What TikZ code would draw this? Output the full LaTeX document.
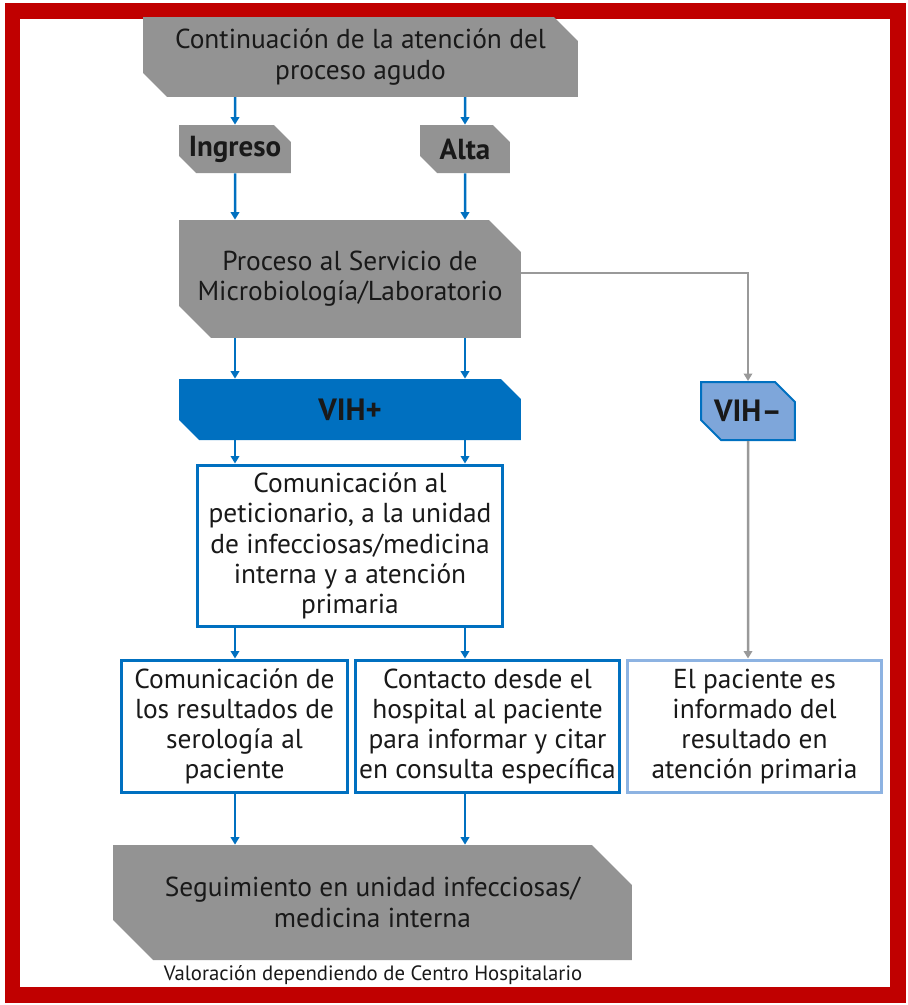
\documentclass[tikz,border=0pt]{standalone}
\usepackage{fontspec}
\setmainfont{PT Sans}
\usetikzlibrary{shapes.misc,arrows.meta}

\definecolor{framered}{HTML}{C00000}
\definecolor{boxgray}{HTML}{939393}
\definecolor{vihblue}{HTML}{0070C0}
\definecolor{vihlight}{HTML}{7EA6DA}
\definecolor{paleblue}{HTML}{8DB3E2}
\definecolor{linegray}{HTML}{999999}

\begin{document}
\begin{tikzpicture}[x=0.02cm,y=-0.02cm,
  cutbox/.style={shape=chamfered rectangle,chamfered rectangle corners={north east,south west},
    chamfered rectangle xsep=#1,chamfered rectangle ysep=#1,inner sep=0pt,align=center,
    text=black!90,font=\fontsize{15.6}{17.2}\selectfont},
  graybox/.style={cutbox=#1,fill=boxgray},
  tagbox/.style={cutbox=#1,fill=boxgray,font=\fontsize{16.5}{18}\selectfont\bfseries},
  textbox/.style={draw=vihblue,line width=0.06cm,fill=white,inner sep=0pt,align=center,
    text=black!90,font=\fontsize{15.6}{17.2}\selectfont},
  bluearrow/.style={draw=vihblue,line width=0.05cm,-{Triangle[length=0.15cm,width=0.17cm]}},
  grayarrow/.style={draw=linegray,line width=0.05cm,-{Triangle[length=0.15cm,width=0.17cm]}}]
\useasboundingbox (0,0) rectangle (908,1005);
\draw[framered,line width=0.32cm] (12.5,11) rectangle (897.5,994.5);
\node[graybox=0.24cm,minimum width=8.7cm,minimum height=1.4cm] (continua) at (360.5,57) {Continuación de la atención del\\proceso agudo};
\node[tagbox=0.17cm,minimum width=2.24cm,minimum height=0.96cm] (ingreso) at (235,149) {Ingreso};
\node[tagbox=0.17cm,minimum width=1.8cm,minimum height=0.96cm] (alta) at (465,149) {Alta};
\node[graybox=0.32cm,minimum width=6.84cm,minimum height=2.36cm] (proceso) at (350,279) {Proceso al Servicio de\\Microbiología/Laboratorio};
\node[tagbox=0.2cm,fill=vihblue,font=\fontsize{17.5}{18}\selectfont\bfseries,minimum width=6.84cm,minimum height=1.22cm] (vihpos) at (350,409.5) {VIH+};
\node[tagbox=0.2cm,fill=vihlight,draw=vihblue,line width=0.04cm,font=\fontsize{17.5}{18}\selectfont\bfseries,minimum width=1.88cm,minimum height=1.16cm] (vihneg) at (748,411) {VIH–};
\node[textbox,minimum width=6.12cm,minimum height=3.24cm] (comunica) at (350,546) {Comunicación al\\peticionario, a la unidad\\de infecciosas/medicina\\interna y a atención\\primaria};
\node[textbox,minimum width=4.54cm,minimum height=2.66cm] (serologia) at (234.5,726.5) {Comunicación de\\los resultados de\\serología al\\paciente};
\node[textbox,minimum width=5.3cm,minimum height=2.66cm] (contacto) at (487.5,726.5) {Contacto desde el\\hospital al paciente\\para informar y citar\\en consulta específica};
\node[textbox,draw=paleblue,minimum width=5.1cm,minimum height=2.66cm] (primaria) at (754.5,726.5) {El paciente es\\informado del\\resultado en\\atención primaria};
\node[graybox=0.4cm,minimum width=10.38cm,minimum height=2.3cm] (seguimiento) at (372.5,902.5) {Seguimiento en unidad infecciosas/\\medicina interna};
\node[font=\fontsize{11.8}{13}\selectfont,text=black!90] (nota) at (373,975) {Valoración dependiendo de Centro Hospitalario};
\draw[bluearrow] (continua.south -| ingreso) -- (ingreso);
\draw[bluearrow] (continua.south -| alta) -- (alta);
\draw[bluearrow] (ingreso) -- (proceso.north -| ingreso);
\draw[bluearrow] (alta) -- (proceso.north -| alta);
\draw[bluearrow] (proceso.south -| ingreso) -- (vihpos.north -| ingreso);
\draw[bluearrow] (proceso.south -| alta) -- (vihpos.north -| alta);
\draw[bluearrow] (vihpos.south -| ingreso) -- (comunica.north -| ingreso);
\draw[bluearrow] (vihpos.south -| alta) -- (comunica.north -| alta);
\draw[bluearrow] (comunica.south -| ingreso) -- (serologia.north -| ingreso);
\draw[bluearrow] (comunica.south -| alta) -- (contacto.north -| alta);
\draw[bluearrow] (serologia.south -| ingreso) -- (seguimiento.north -| ingreso);
\draw[bluearrow] (contacto.south -| alta) -- (seguimiento.north -| alta);
\draw[grayarrow] ([yshift=0.12cm]proceso.east) -| (vihneg.north);
\draw[grayarrow] (vihneg) -- (primaria.north -| vihneg);
\end{tikzpicture}
\end{document}
